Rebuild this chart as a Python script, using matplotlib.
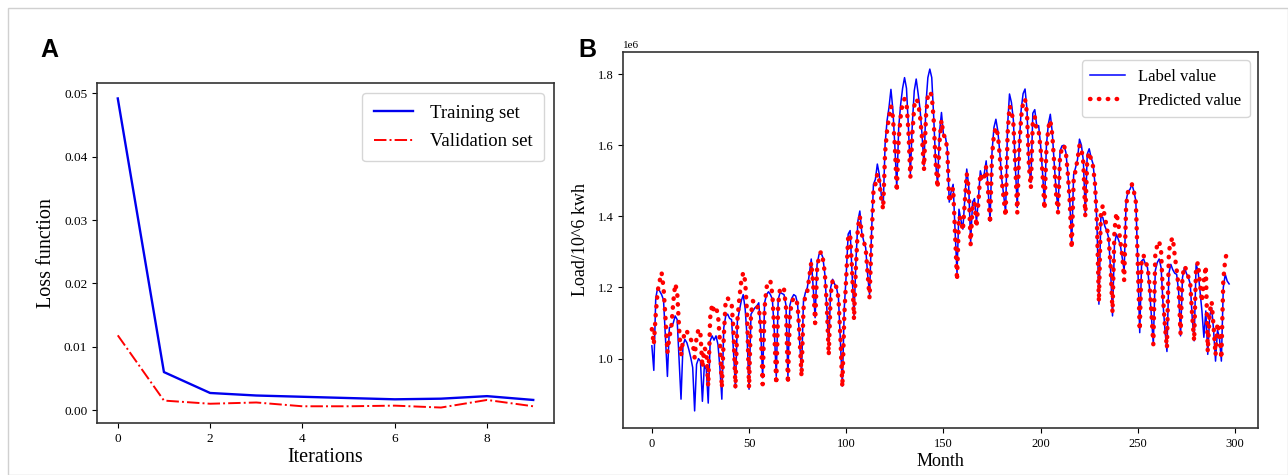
import matplotlib
matplotlib.use("Agg")
import matplotlib.pyplot as plt
import numpy as np
from matplotlib.patches import Rectangle

plt.rcParams.update({
    "font.family": ["Liberation Serif", "DejaVu Serif"],
    "axes.linewidth": 1.2,
    "axes.edgecolor": "#333333",
})

# panel A: loss per iteration
iterations = list(range(10))
train_loss = [0.0492, 0.0060, 0.0027, 0.0023, 0.0021, 0.0019, 0.0017, 0.0018, 0.0022, 0.0016]
val_loss = [0.0118, 0.0015, 0.0010, 0.0012, 0.0006, 0.0006, 0.0007, 0.0004, 0.0016, 0.0006]

# panel B: monthly load, in units of 1e6 kwh
label_value = [
    1.036, 0.967, 1.17, 1.20, 1.19, 1.18, 1.165, 1.06, 0.95, 1.087,
    1.09, 1.10, 1.12, 1.11, 1.00, 0.886, 1.036, 1.054, 1.045, 1.026,
    1.003, 0.975, 0.853, 0.984, 1.00, 0.993, 0.88, 0.98, 0.97, 0.875,
    1.05, 1.064, 1.052, 1.064, 1.04, 0.975, 0.886, 1.087, 1.12, 1.125,
    1.113, 1.11, 1.02, 0.918, 1.106, 1.134, 1.162, 1.18, 1.14, 1.06,
    0.914, 1.125, 1.134, 1.143, 1.148, 1.157, 1.08, 0.946, 1.157, 1.18,
    1.188, 1.18, 1.167, 1.078, 0.95, 1.167, 1.186, 1.183, 1.18, 1.15,
    0.95, 1.15, 1.17, 1.18, 1.176, 1.153, 1.05, 0.96, 1.162, 1.186,
    1.20, 1.237, 1.28, 1.20, 1.115, 1.265, 1.293, 1.298, 1.284, 1.237,
    1.143, 1.03, 1.20, 1.223, 1.21, 1.20, 1.17, 1.05, 0.923, 1.143,
    1.237, 1.35, 1.36, 1.237, 1.12, 1.275, 1.387, 1.415, 1.354, 1.33,
    1.312, 1.237, 1.18, 1.35, 1.49, 1.504, 1.547, 1.518, 1.462, 1.425,
    1.603, 1.669, 1.706, 1.757, 1.70, 1.60, 1.48, 1.65, 1.715, 1.76,
    1.79, 1.76, 1.65, 1.52, 1.66, 1.753, 1.786, 1.745, 1.70, 1.63,
    1.542, 1.715, 1.79, 1.814, 1.79, 1.68, 1.55, 1.49, 1.636, 1.692,
    1.63, 1.626, 1.589, 1.44, 1.47, 1.49, 1.36, 1.24, 1.42, 1.39,
    1.364, 1.45, 1.533, 1.486, 1.327, 1.44, 1.45, 1.383, 1.45, 1.528,
    1.505, 1.52, 1.556, 1.476, 1.387, 1.58, 1.65, 1.673, 1.64, 1.58,
    1.505, 1.46, 1.41, 1.655, 1.744, 1.72, 1.67, 1.54, 1.425, 1.60,
    1.70, 1.745, 1.758, 1.70, 1.542, 1.495, 1.69, 1.70, 1.655, 1.655,
    1.60, 1.523, 1.434, 1.60, 1.66, 1.687, 1.636, 1.55, 1.47, 1.42,
    1.584, 1.598, 1.60, 1.58, 1.523, 1.443, 1.32, 1.518, 1.537, 1.56,
    1.617, 1.60, 1.556, 1.406, 1.575, 1.59, 1.565, 1.547, 1.49, 1.378,
    1.153, 1.397, 1.397, 1.373, 1.36, 1.34, 1.25, 1.12, 1.32, 1.35,
    1.335, 1.32, 1.284, 1.247, 1.444, 1.47, 1.476, 1.49, 1.47, 1.444,
    1.265, 1.073, 1.275, 1.28, 1.265, 1.256, 1.20, 1.12, 1.04, 1.247,
    1.27, 1.28, 1.256, 1.153, 1.08, 1.02, 1.24, 1.265, 1.25, 1.24,
    1.237, 1.19, 1.064, 1.228, 1.256, 1.24, 1.228, 1.21, 1.115, 1.05,
    1.265, 1.247, 1.19, 1.134, 1.06, 1.134, 1.012, 1.12, 1.143, 1.08,
    0.993, 1.08, 1.06, 0.993, 1.20, 1.237, 1.218, 1.21,
]
predicted_value = [
    1.083, 1.04, 1.125, 1.19, 1.218, 1.242, 1.20, 1.115, 1.017, 1.06,
    1.087, 1.158, 1.21, 1.19, 1.087, 1.008, 1.05, 1.078, 1.078, 1.06,
    1.054, 1.045, 1.003, 1.06, 1.083, 1.07, 0.975, 1.03, 1.022, 0.923,
    1.115, 1.153, 1.134, 1.143, 1.125, 1.05, 0.918, 1.06, 1.167, 1.17,
    1.162, 1.158, 1.078, 0.918, 1.106, 1.17, 1.218, 1.242, 1.218, 1.125,
    0.918, 1.125, 1.162, 1.158, 1.143, 1.148, 1.087, 0.928, 1.143, 1.20,
    1.218, 1.218, 1.18, 1.078, 0.928, 1.153, 1.20, 1.20, 1.195, 1.143,
    0.93, 1.12, 1.16, 1.17, 1.17, 1.15, 1.06, 0.95, 1.14, 1.18,
    1.19, 1.23, 1.27, 1.21, 1.10, 1.25, 1.29, 1.30, 1.28, 1.24,
    1.15, 1.01, 1.18, 1.22, 1.21, 1.20, 1.17, 1.06, 0.92, 1.12,
    1.23, 1.34, 1.35, 1.25, 1.11, 1.26, 1.37, 1.40, 1.35, 1.33,
    1.31, 1.24, 1.17, 1.33, 1.47, 1.49, 1.52, 1.50, 1.45, 1.42,
    1.58, 1.64, 1.68, 1.71, 1.68, 1.60, 1.47, 1.62, 1.68, 1.72,
    1.73, 1.72, 1.64, 1.51, 1.63, 1.71, 1.73, 1.72, 1.68, 1.62,
    1.53, 1.68, 1.74, 1.75, 1.74, 1.67, 1.55, 1.48, 1.61, 1.67,
    1.63, 1.62, 1.59, 1.44, 1.46, 1.48, 1.35, 1.22, 1.40, 1.39,
    1.36, 1.44, 1.52, 1.48, 1.32, 1.43, 1.44, 1.37, 1.44, 1.52,
    1.50, 1.51, 1.54, 1.47, 1.38, 1.57, 1.63, 1.65, 1.63, 1.57,
    1.50, 1.45, 1.40, 1.63, 1.71, 1.70, 1.66, 1.54, 1.41, 1.59,
    1.68, 1.72, 1.73, 1.69, 1.54, 1.48, 1.67, 1.68, 1.64, 1.64,
    1.59, 1.52, 1.42, 1.59, 1.65, 1.67, 1.63, 1.55, 1.46, 1.41,
    1.57, 1.59, 1.60, 1.58, 1.52, 1.44, 1.31, 1.50, 1.53, 1.56,
    1.60, 1.59, 1.55, 1.40, 1.56, 1.58, 1.56, 1.54, 1.49, 1.38,
    1.16, 1.41, 1.43, 1.40, 1.37, 1.34, 1.26, 1.13, 1.36, 1.41,
    1.38, 1.33, 1.29, 1.22, 1.43, 1.47, 1.48, 1.49, 1.47, 1.44,
    1.27, 1.08, 1.28, 1.29, 1.27, 1.26, 1.21, 1.13, 1.04, 1.29,
    1.32, 1.33, 1.30, 1.17, 1.09, 1.03, 1.30, 1.33, 1.34, 1.29,
    1.25, 1.20, 1.07, 1.23, 1.26, 1.25, 1.23, 1.21, 1.12, 1.05,
    1.26, 1.27, 1.21, 1.16, 1.22, 1.26, 1.02, 1.13, 1.16, 1.09,
    1.01, 1.10, 1.07, 1.00, 1.22, 1.28, 1.30, 1.30,
]

W, H = 1288, 475
fig = plt.figure(figsize=(W / 100, H / 100), dpi=100)

# light frame round the whole picture
fig.patches.append(Rectangle((8 / W, 0), 1 - 8 / W, 1 - 8 / H, transform=fig.transFigure,
                             fill=False, edgecolor="#d0d0d0", lw=1.0))

# ---- panel A
axA = fig.add_axes([97 / W, 1 - 423 / H, 457 / W, 340 / H])
axA.plot(iterations, train_loss, "-", color="#0000ee", lw=1.7, label="Training set")
axA.plot(iterations, val_loss, "-.", color="#ff0000", lw=1.4, label="Validation set")
axA.set_xlabel("Iterations", fontsize=14.5, labelpad=2)
axA.set_ylabel("Loss function", fontsize=14.5, labelpad=6)
axA.tick_params(labelsize=9.5)
axA.legend(loc="upper right", fontsize=13.5, handlelength=2.1, borderpad=0.6,
           labelspacing=0.6, handletextpad=0.9, borderaxespad=0.55)
fig.text(40 / W, 1 - 50 / H, "A", fontsize=18, fontweight="bold",
         family="Liberation Sans", va="center", ha="left")

# ---- panel B
axB = fig.add_axes([623 / W, 1 - 428 / H, 635 / W, 376 / H])
months = np.arange(len(label_value))
axB.plot(months, np.array(label_value) * 1e6, "-", color="#0000ff", lw=1.1,
         label="Label value")
axB.plot(months, np.array(predicted_value) * 1e6, color="#ff0000", lw=3.2,
         linestyle=(0, (0.1, 1.9)), dash_capstyle="round", label="Predicted value")
axB.set_xlabel("Month", fontsize=13, labelpad=2)
axB.set_ylabel("Load/10^6 kwh", fontsize=13, labelpad=6)
axB.tick_params(labelsize=9)
axB.yaxis.get_offset_text().set_fontsize(8)
axB.legend(loc="upper right", fontsize=12, handlelength=2.1, borderpad=0.5,
           labelspacing=0.5, handletextpad=0.8)
fig.text(578 / W, 1 - 50 / H, "B", fontsize=18, fontweight="bold",
         family="Liberation Sans", va="center", ha="left")

fig.savefig("out.png", dpi=100, facecolor="white")
